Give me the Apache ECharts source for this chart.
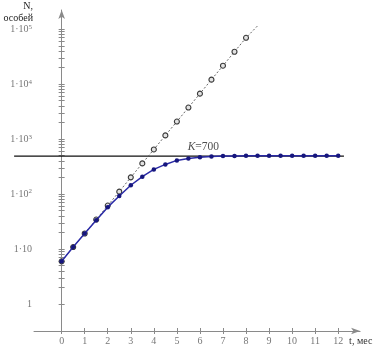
<!DOCTYPE html>
<html><head><meta charset="utf-8">
<script src="https://cdn.jsdelivr.net/npm/echarts@6/dist/echarts.min.js"></script>
<style>html,body{margin:0;padding:0;background:#fff}#c{width:375px;height:346px}</style>
</head><body><div id="c"></div><script>
// time (months) for the logistic curve
const logisticT = [0,0.5,1,1.5,2,2.5,3,3.5,4,4.5,5,5.5,6,6.5,7,7.5,8,8.5,9,9.5,10,10.5,11,11.5,12];
// logistic growth, individuals
const logisticN = [6.0,10.9,19.2,33.5,58,92.5,145,208,282,347,411,446,471,485,492,496,498,499,500,500,500,500,500,500,500];
// time (months) for the exponential curve
const expT = [0,0.5,1,1.5,2,2.5,3,3.5,4,4.5,5,5.5,6,6.5,7,7.5,8,8.5];
// exponential growth, individuals
const expN = [6.0,10.9,19.2,34.5,62,111,202,362,650,1170,2090,3760,6730,12100,21700,38900,69800,115000];
// carrying capacity line (drawn level) and its label
const kLevel = 500;
const kLineT = [-2.05, 12.05];
const kLabelT = 6.15;
const kLabelText = '{i|K}=700';
// axis ticks and titles
const xTicks = [0,1,2,3,4,5,6,7,8,9,10,11,12];
const yMajor = [1,10,100,1000,10000,100000];
const yTitle = 'N,\nособей';
const xTitle = 't, мес';

const yMinor = [];
yMajor.slice(0,5).forEach(d => { for (let k = 2; k <= 9; k++) yMinor.push(d*k); });
const yAllTicks = yMajor.concat(yMinor);

const serif = '"Liberation Serif", "DejaVu Serif", serif';
const axisGrey = '#8a8a8a';
const yMin = Math.pow(10, -0.49);
const yMax = Math.pow(10, -0.49 + 322/55.14);
const xMin = -1.2, xMax = 12.95;
const gridL = 34, gridR = 10, wideL = 14;
const plotW = 375 - gridL - gridR;
const xMinWide = xMin - (gridL - wideL) * (xMax - xMin) / plotW;

function yFmt(v) {
  const e = Math.round(Math.log10(v));
  if (e === 0) return '{b|1}';
  if (e === 1) return '{b|1·10}';
  return '{b|1·10}{s|' + e + '}';
}

const xBase = {type: 'value', position: 'bottom', min: xMin, max: xMax, splitLine: {show: false}};
const yBase = {type: 'log', position: 'left', logBase: 10, min: yMin, max: yMax, splitLine: {show: false}};
const hidden = {show: false};

const chart = echarts.init(document.getElementById('c'), null, {renderer: 'canvas'});
chart.setOption({
  animation: false,
  backgroundColor: '#fff',
  grid: [
    {left: gridL, right: gridR, top: 10, bottom: 14, containLabel: false},
    {left: wideL, right: gridR, top: 10, bottom: 14, containLabel: false}
  ],
  graphic: [{
    type: 'text', x: 33, y: 0,
    style: {text: yTitle, align: 'right', verticalAlign: 'top', lineHeight: 12,
      font: '10px ' + serif, fill: '#222'}
  }],
  xAxis: [
    Object.assign({}, xBase, {
      gridIndex: 0,
      axisLine: {show: true, lineStyle: {color: axisGrey, width: 1}, symbol: ['none', 'arrow'], symbolSize: [5, 9]},
      axisTick: {show: true, length: 3, lineStyle: {color: axisGrey}, customValues: xTicks},
      axisLabel: {show: true, customValues: xTicks, margin: 5, fontFamily: serif, fontSize: 10, color: '#777'},
      name: xTitle, nameLocation: 'end', nameGap: -14,
      nameTextStyle: {align: 'left', verticalAlign: 'top', padding: [5, 0, 0, 0], fontFamily: serif, fontSize: 10, color: '#333'}
    }),
    Object.assign({}, xBase, {
      gridIndex: 0, offset: 0,
      axisLine: hidden,
      axisTick: {show: true, inside: true, length: 3, lineStyle: {color: axisGrey}, customValues: xTicks},
      axisLabel: hidden
    }),
    Object.assign({}, xBase, {
      gridIndex: 1, min: xMinWide, axisLine: hidden, axisTick: hidden, axisLabel: hidden
    })
  ],
  yAxis: [
    Object.assign({}, yBase, {
      gridIndex: 0,
      axisLine: {show: true, lineStyle: {color: axisGrey, width: 1}, symbol: ['none', 'arrow'], symbolSize: [5, 9]},
      axisTick: {show: true, length: 3, lineStyle: {color: axisGrey}, customValues: yAllTicks},
      axisLabel: {
        show: true, customValues: yMajor, margin: 2, formatter: yFmt,
        rich: {
          b: {fontFamily: serif, fontSize: 10, color: '#777'},
          s: {fontFamily: serif, fontSize: 7, color: '#777', verticalAlign: 'top', padding: [0, 0, 5, 0]}
        }
      }
    }),
    Object.assign({}, yBase, {
      gridIndex: 0, offset: 0,
      axisLine: hidden,
      axisTick: {show: true, inside: true, length: 3, lineStyle: {color: axisGrey}, customValues: yAllTicks},
      axisLabel: hidden
    }),
    Object.assign({}, yBase, {
      gridIndex: 1, axisLine: hidden, axisTick: hidden, axisLabel: hidden
    })
  ],
  series: [
    {
      type: 'line', name: 'K', xAxisIndex: 2, yAxisIndex: 2,
      data: kLineT.map(t => [t, kLevel]), symbol: 'none',
      lineStyle: {color: '#111', width: 1.2}, z: 1
    },
    {
      type: 'scatter', xAxisIndex: 0, yAxisIndex: 0,
      data: [[kLabelT, kLevel]], symbolSize: 0,
      label: {show: true, position: 'top', distance: 3, formatter: kLabelText,
        fontFamily: serif, fontSize: 11.5, color: '#222',
        rich: {i: {fontFamily: serif, fontSize: 11.5, fontStyle: 'italic', color: '#222'}}},
      z: 2
    },
    {
      type: 'line', name: 'exp', xAxisIndex: 0, yAxisIndex: 0,
      data: expT.map((t, i) => i === expT.length - 1 ? {value: [t, expN[i]], symbol: 'none'} : [t, expN[i]]),
      symbol: 'circle', symbolSize: 5,
      lineStyle: {color: '#666', width: 1, type: [2, 2]},
      itemStyle: {color: '#e2e2e2', borderColor: '#3a3a3a', borderWidth: 1.1},
      z: 3
    },
    {
      type: 'line', name: 'logistic', xAxisIndex: 0, yAxisIndex: 0,
      data: logisticT.map((t, i) => [t, logisticN[i]]),
      symbol: 'circle', symbolSize: 4.5,
      lineStyle: {color: '#2a2aa6', width: 1.5},
      itemStyle: {color: '#16167e', borderWidth: 0},
      z: 4
    }
  ]
});
</script></body></html>
